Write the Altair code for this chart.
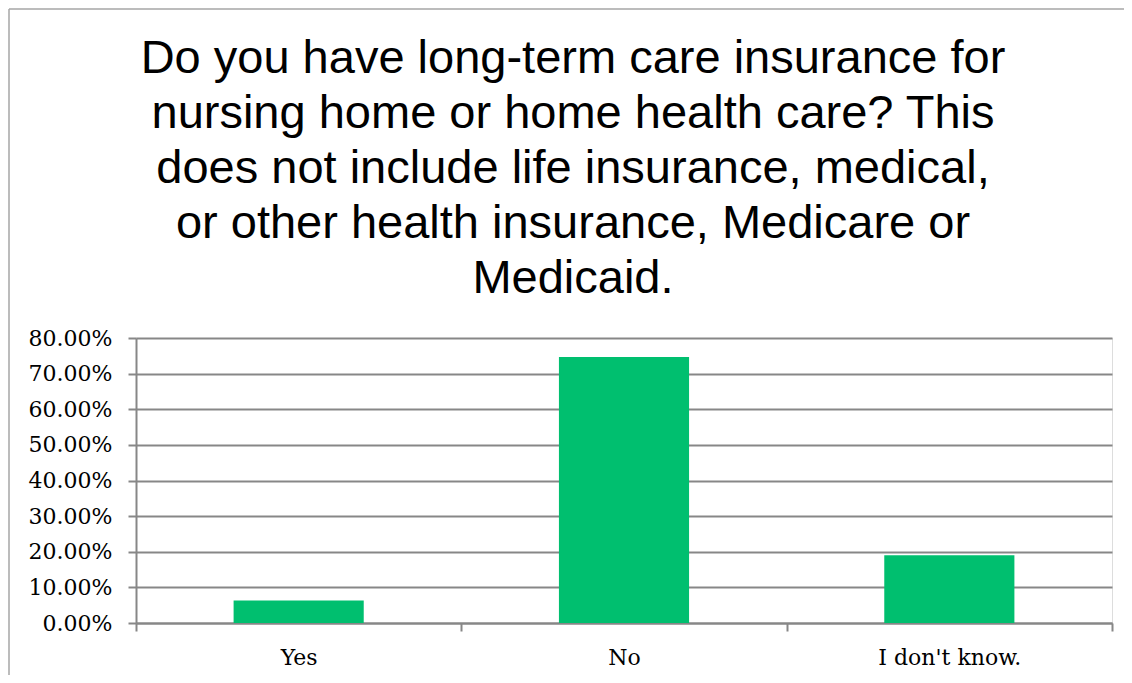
import altair as alt
import pandas as pd

categories = ["Yes", "No", "I don't know."]
shares = [0.063, 0.747, 0.190]
title_lines = [
    "Do you have long-term care insurance for",
    "nursing home or home health care? This",
    "does not include life insurance, medical,",
    "or other health insurance, Medicare or",
    "Medicaid.",
]

df = pd.DataFrame({"answer": categories, "share": shares})
title_df = pd.DataFrame({"k": [0]})

W, H = 976, 285
PAD_L, PAD_T, PAD_R, PAD_B = 128, 330, 12, 52
border_color = "#a6a6a6"

bars = alt.Chart(df).mark_bar(color="#00BF6F", width=alt.RelativeBandSize(0.4)).encode(
    x=alt.X(
        "answer:N",
        sort=categories,
        title=None,
        scale=alt.Scale(paddingInner=0, paddingOuter=0),
        axis=alt.Axis(
            tickBand="extent",
            labelAngle=0,
            labelFont="DejaVu Serif",
            labelFontSize=22,
            labelColor="#000000",
            labelPadding=16,
            tickSize=8,
            tickColor="#878787",
            tickWidth=2,
            domainColor="#878787",
            domainWidth=2,
            grid=False,
        ),
    ),
    y=alt.Y(
        "share:Q",
        title=None,
        scale=alt.Scale(domain=[0, 0.8], nice=False),
        axis=alt.Axis(
            values=[0, 0.1, 0.2, 0.3, 0.4, 0.5, 0.6, 0.7, 0.8],
            format=".2%",
            labelFont="DejaVu Serif",
            labelFontSize=22,
            labelColor="#000000",
            labelPadding=16,
            tickSize=8,
            tickColor="#878787",
            tickWidth=2,
            domainColor="#878787",
            domainWidth=2,
            grid=True,
            gridColor="#878787",
            gridWidth=2,
        ),
    ),
)

title_text = alt.Chart(title_df).mark_text(
    font="Liberation Sans",
    fontSize=47,
    color="#000000",
    align="center",
    baseline="alphabetic",
    lineHeight=55,
).encode(
    x=alt.value(W / 2 - 51),
    y=alt.value(73 - 338),
    text=alt.value(title_lines),
)

left_border = alt.Chart(title_df).mark_rule(color=border_color, strokeWidth=1.5).encode(
    x=alt.value(-PAD_L + 1),
    y=alt.value(-PAD_T + 1),
    y2=alt.value(H + PAD_B),
)
top_border = alt.Chart(title_df).mark_rule(color=border_color, strokeWidth=1.5).encode(
    x=alt.value(-PAD_L + 1),
    x2=alt.value(W + PAD_R),
    y=alt.value(-PAD_T + 1),
)

chart = (
    alt.layer(bars, title_text, left_border, top_border)
    .properties(
        width=W,
        height=H,
        padding={"left": PAD_L, "top": PAD_T, "right": PAD_R, "bottom": PAD_B},
        autosize=alt.AutoSizeParams(type="none"),
    )
    .configure_view(stroke=None)
    .configure(background="#ffffff")
)

chart.save("out.html", embed_options={"renderer": "svg", "actions": False})
